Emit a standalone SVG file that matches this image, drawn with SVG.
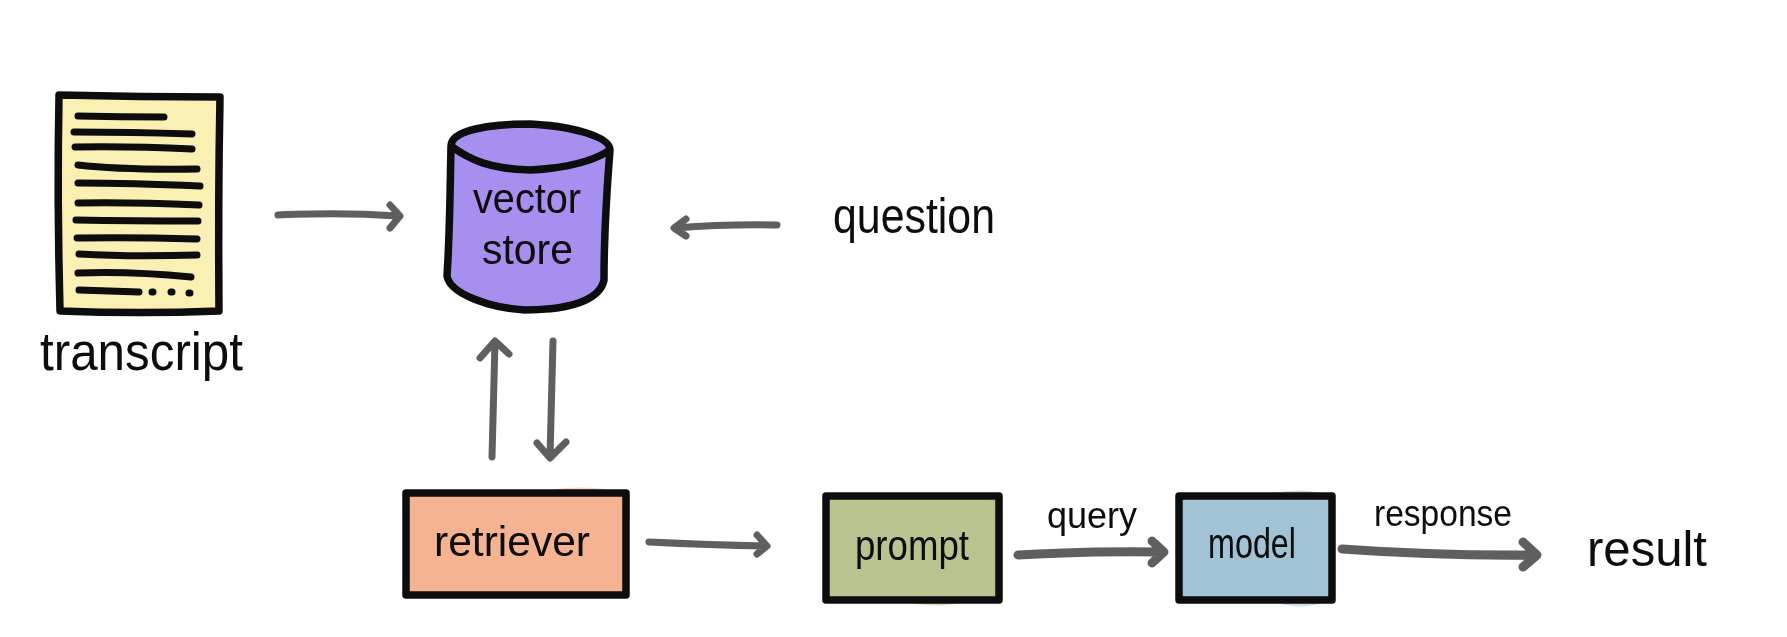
<svg xmlns="http://www.w3.org/2000/svg" width="1787" height="637" viewBox="0 0 1787 637">
<style>
.box{stroke:#0b0b0b;stroke-width:7.5;stroke-linejoin:round}
.ln{fill:none;stroke:#0b0b0b;stroke-width:7;stroke-linecap:round}
.arrow{fill:none;stroke:#5e5e5e;stroke-linecap:round;stroke-linejoin:round}
.bleed{stroke:none;opacity:.55}
text{font-family:"Liberation Sans","DejaVu Sans",sans-serif;fill:#0b0b0b}
</style>
<defs><filter id="soft" x="-5%" y="-5%" width="110%" height="110%"><feGaussianBlur stdDeviation="0.7"/></filter></defs>
<rect width="1787" height="637" fill="#fff"/>
<g filter="url(#soft)">
<g id="connectors" class="arrow">
<g stroke-width="7">
<path d="M278 215Q340 212 398 216M390 205L400 216L390 228"/>
<path d="M777 225Q725 224 676 228M686 219L674 228L686 236"/>
<path d="M492 457L495 342M480 358L495 341L509 354"/>
<path d="M553 341L550 457M537 443L550 458L566 442"/>
<path d="M649 542Q710 545 766 546M757 535L767 546L757 554"/>
</g>
<g stroke-width="9">
<path d="M1018 555Q1090 551 1162 552M1152 541L1164 552L1152 563"/>
<path d="M1342 549Q1440 556 1534 555M1523 542L1537 555L1523 567"/>
</g>
</g>
<g id="transcript">
<path d="M59 95Q140 97 220 97Q218 200 219 311Q140 314 60 311Q57 200 59 95Z" fill="#fbf0b4" class="box"/>
<g class="ln">
<path d="M78 116Q120 117 164 117"/>
<path d="M74 132Q130 132 192 134"/>
<path d="M75 147Q130 146 192 149"/>
<path d="M78 165Q120 170 197 169"/>
<path d="M78 183Q130 183 200 186"/>
<path d="M78 203Q130 202 199 205"/>
<path d="M76 220Q130 221 198 221"/>
<path d="M77 238Q130 237 197 239"/>
<path d="M79 254Q130 257 197 255"/>
<path d="M78 273Q130 271 191 277"/>
<path d="M79 290Q110 291 139 292"/>
<path d="M152 292h1M171 292h1M189 293h1"/>
</g>
<text x="40" y="370" font-size="54" textLength="203" lengthAdjust="spacingAndGlyphs">transcript</text>
</g>
<g id="vector-store">
<path d="M451 146C451 130 490 124 530 124C570 126 610 136 610 150C606 200 604 240 604 280C600 300 570 310 525 310C490 308 450 294 447 276C450 230 450 190 451 146Z" fill="#a78ff0" class="box"/>
<path d="M451 146C470 160 490 169 530 170C570 168 595 160 610 150" fill="none" class="box"/>
<text x="473" y="213" font-size="42" textLength="108" lengthAdjust="spacingAndGlyphs">vector</text>
<text x="482" y="264" font-size="42" textLength="91" lengthAdjust="spacingAndGlyphs">store</text>
</g>
<g id="question"><text x="833" y="233" font-size="50" textLength="162" lengthAdjust="spacingAndGlyphs">question</text></g>
<g id="retriever">
<path class="bleed" fill="#f6b391" d="M535 492Q590 482 630 494V520H535Z"/>
<rect x="406" y="493" width="220" height="102" fill="#f6b391" class="box"/>
<text x="434" y="556" font-size="43" textLength="156" lengthAdjust="spacingAndGlyphs">retriever</text>
</g>
<g id="prompt">
<path class="bleed" fill="#b8c48f" d="M900 598Q930 612 970 600V590H900Z"/>
<rect x="826" y="496" width="173" height="104" fill="#b8c48f" class="box"/>
<text x="855" y="560" font-size="43" textLength="114" lengthAdjust="spacingAndGlyphs">prompt</text>
</g>
<g id="model">
<path class="bleed" fill="#a2c2d6" d="M1260 498Q1295 484 1330 496V505H1260Z"/>
<path class="bleed" fill="#a2c2d6" d="M1265 598Q1300 614 1330 600V590H1265Z"/>
<rect x="1179" y="496" width="153" height="104" fill="#a2c2d6" class="box"/>
<text x="1208" y="558" font-size="43" textLength="88" lengthAdjust="spacingAndGlyphs">model</text>
</g>
<g id="query-label"><text x="1047" y="528" font-size="36" textLength="90" lengthAdjust="spacingAndGlyphs">query</text></g>
<g id="response-label"><text x="1374" y="526" font-size="36" textLength="138" lengthAdjust="spacingAndGlyphs">response</text></g>
<g id="result"><text x="1587" y="566" font-size="50" textLength="120" lengthAdjust="spacingAndGlyphs">result</text></g>
</g>
</svg>
